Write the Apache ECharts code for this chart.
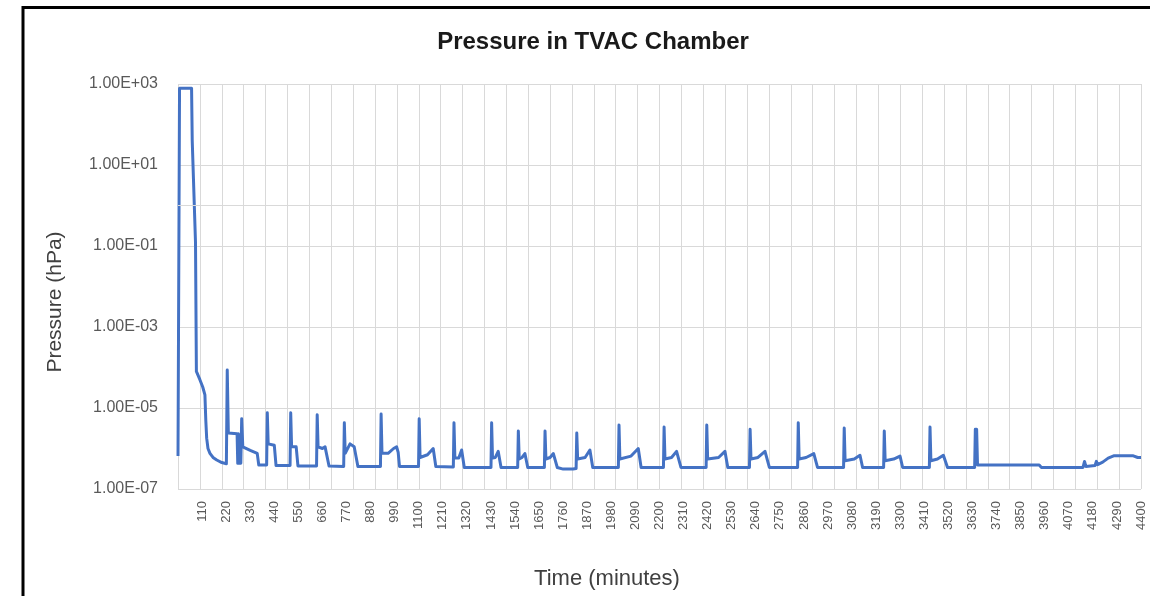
<!DOCTYPE html>
<html>
<head>
<meta charset="utf-8">
<script src="https://cdn.jsdelivr.net/npm/echarts@6/dist/echarts.min.js"></script>
<style>
html,body{margin:0;padding:0;background:#fff;overflow:hidden;}
#chart{width:1150px;height:596px;}
</style>
</head>
<body>
<div id="chart"></div>
<script>
// ---- data (time in minutes, pressure in hPa) ----
const times = [
  0, 7, 35, 62, 65, 80, 84, 100, 113, 123, 127, 131, 137, 146, 160, 177, 200, 221,
  225, 230, 270, 273, 276, 280, 284, 287, 291, 296, 330, 362, 369,
  405, 408, 412, 440, 448,
  512, 515, 519, 540, 548,
  633, 636, 640, 660, 672, 690,
  757, 760, 764, 786, 805, 822,
  925, 928, 932, 960, 985, 999, 1006, 1012,
  1099, 1102, 1106, 1140, 1166, 1178,
  1258, 1261, 1265, 1283, 1296, 1308,
  1430, 1433, 1437, 1450, 1463, 1476,
  1552, 1555, 1559, 1572, 1585, 1598,
  1674, 1677, 1681, 1700, 1715, 1733, 1760, 1805,
  1819, 1822, 1826, 1860, 1882, 1895,
  2012, 2015, 2019, 2070, 2103, 2116,
  2218, 2221, 2225, 2255, 2278, 2298,
  2413, 2416, 2420, 2470, 2499, 2512,
  2611, 2614, 2618, 2650, 2682, 2702,
  2831, 2834, 2838, 2870, 2905, 2922,
  3041, 3044, 3048, 3090, 3116, 3128,
  3224, 3227, 3231, 3270, 3299, 3311,
  3433, 3436, 3440, 3470, 3497, 3516,
  3640, 3643, 3646, 3649, 3653,
  3935, 3945, 4135, 4142, 4148, 4190, 4196, 4202, 4225, 4250, 4275, 4365, 4385, 4400
];
const pressures = [
  6.5e-7, 780, 790, 780, 40, 0.12, 8e-5, 5e-5, 3.3e-5, 2.1e-5, 5e-6, 1.8e-6, 1.0e-6, 7.6e-7, 6e-7, 5.2e-7, 4.5e-7, 4.2e-7,
  8.7e-5, 2.4e-6, 2.3e-6, 4.3e-7, 2.3e-6, 4.3e-7, 2.0e-6, 4.3e-7, 5.4e-6, 1.1e-6, 9e-7, 7.6e-7, 3.9e-7,
  3.9e-7, 7.6e-6, 1.3e-6, 1.2e-6, 3.8e-7,
  3.8e-7, 7.6e-6, 1.1e-6, 1.1e-6, 3.7e-7,
  3.7e-7, 6.8e-6, 1.1e-6, 1.0e-6, 1.1e-6, 3.7e-7,
  3.6e-7, 4.3e-6, 7.6e-7, 1.3e-6, 1.1e-6, 3.6e-7,
  3.6e-7, 7.1e-6, 7.6e-7, 7.6e-7, 1.0e-6, 1.1e-6, 8e-7, 3.6e-7,
  3.6e-7, 5.4e-6, 6e-7, 7e-7, 1.0e-6, 3.6e-7,
  3.5e-7, 4.3e-6, 5.8e-7, 5.8e-7, 9.2e-7, 3.4e-7,
  3.4e-7, 4.3e-6, 5.8e-7, 6e-7, 8.5e-7, 3.4e-7,
  3.4e-7, 2.7e-6, 5.5e-7, 6e-7, 7.5e-7, 3.4e-7,
  3.4e-7, 2.7e-6, 5.5e-7, 6e-7, 7.5e-7, 3.4e-7, 3.1e-7, 3.1e-7,
  3.2e-7, 2.4e-6, 5.5e-7, 6e-7, 9.2e-7, 3.4e-7,
  3.4e-7, 3.8e-6, 5.5e-7, 6.5e-7, 1.0e-6, 3.4e-7,
  3.4e-7, 3.4e-6, 5.5e-7, 6e-7, 8.5e-7, 3.4e-7,
  3.4e-7, 3.8e-6, 5.5e-7, 6e-7, 8.5e-7, 3.4e-7,
  3.4e-7, 3.0e-6, 5.5e-7, 6e-7, 8.5e-7, 3.4e-7,
  3.4e-7, 4.3e-6, 5.5e-7, 6e-7, 7.5e-7, 3.4e-7,
  3.4e-7, 3.2e-6, 5e-7, 5.5e-7, 6.8e-7, 3.4e-7,
  3.4e-7, 2.7e-6, 5e-7, 5.5e-7, 6.5e-7, 3.4e-7,
  3.4e-7, 3.4e-6, 5e-7, 5.5e-7, 6.8e-7, 3.4e-7,
  3.4e-7, 3.0e-6, 1.0e-6, 3.0e-6, 3.9e-7,
  3.9e-7, 3.4e-7, 3.4e-7, 4.8e-7, 3.6e-7, 3.8e-7, 4.8e-7, 4e-7, 4.6e-7, 5.8e-7, 6.6e-7, 6.6e-7, 6.0e-7, 6.0e-7
];

// axis settings
const xMin = 0, xMax = 4400;
const xLabelStep = 110;   // tick labels every 110 minutes
const xGridStep = 100;    // vertical gridlines every 100 minutes
const yMin = 1e-7, yMax = 1e3;

const titleText = 'Pressure in TVAC Chamber';
const xName = 'Time (minutes)';
const yName = 'Pressure (hPa)';

function fmtExp(v) {
  const s = Number(v).toExponential(2).toUpperCase(); // e.g. 1.00E-7
  const m = s.match(/^(.*)E([+-])(\d+)$/);
  if (!m) return s;
  return m[1] + 'E' + m[2] + (m[3].length < 2 ? '0' + m[3] : m[3]);
}

const FONT = '"Liberation Sans", Arial, sans-serif';
const seriesData = times.map((t, i) => [t, pressures[i]]);

const chart = echarts.init(document.getElementById('chart'), null, {renderer: 'canvas'});
chart.setOption({
  animation: false,
  backgroundColor: '#ffffff',
  grid: {left: 178, right: 9, top: 84, bottom: 107, containLabel: false},
  xAxis: [
    {
      type: 'value', min: xMin, max: xMax, interval: xLabelStep,
      axisLine: {show: false}, axisTick: {show: false}, splitLine: {show: false},
      axisLabel: {
        rotate: 90, margin: 12, color: '#595959', fontSize: 13, fontFamily: FONT,
        formatter: v => (v === 0 ? '' : String(v))
      }
    },
    {
      type: 'value', min: xMin, max: xMax, interval: xGridStep, position: 'bottom',
      axisLine: {show: false}, axisTick: {show: false}, axisLabel: {show: false},
      splitLine: {show: true, lineStyle: {color: '#d9d9d9', width: 1}}
    }
  ],
  yAxis: {
    type: 'log', logBase: 10, min: yMin, max: yMax, interval: 2,
    axisLine: {show: false}, axisTick: {show: false},
    splitLine: {show: true, lineStyle: {color: '#d9d9d9', width: 1}},
    axisLabel: {color: '#595959', fontSize: 16, fontFamily: FONT, margin: 20, formatter: fmtExp}
  },
  graphic: [
    {type: 'rect', silent: true, shape: {x: 23, y: 7.5, width: 3000, height: 3000},
     style: {fill: 'none', stroke: '#000', lineWidth: 3}},
    {type: 'text', silent: true, x: 593, y: 42,
     style: {text: titleText, font: 'bold 24px ' + FONT, fill: '#1a1a1a',
             align: 'center', verticalAlign: 'middle', textAlign: 'center', textVerticalAlign: 'middle'}},
    {type: 'text', silent: true, x: 607, y: 579,
     style: {text: xName, font: '22px ' + FONT, fill: '#404040',
             align: 'center', verticalAlign: 'middle', textAlign: 'center', textVerticalAlign: 'middle'}},
    {type: 'text', silent: true, x: 55, y: 302, rotation: Math.PI / 2,
     style: {text: yName, font: '21px ' + FONT, fill: '#404040',
             align: 'center', verticalAlign: 'middle', textAlign: 'center', textVerticalAlign: 'middle'}}
  ],
  series: [
    {
      type: 'line', xAxisIndex: 1, data: [], z: 1, silent: true,
      markLine: {silent: true, symbol: 'none', label: {show: false},
                 lineStyle: {color: '#d9d9d9', width: 1, type: 'solid'},
                 data: [{yAxis: 1}]}
    },
    {
      type: 'line', xAxisIndex: 0, data: seriesData, showSymbol: false, symbol: 'none',
      z: 3, lineStyle: {color: '#4472C4', width: 3, join: 'round'}, itemStyle: {color: '#4472C4'}
    }
  ]
});
</script>
</body>
</html>
